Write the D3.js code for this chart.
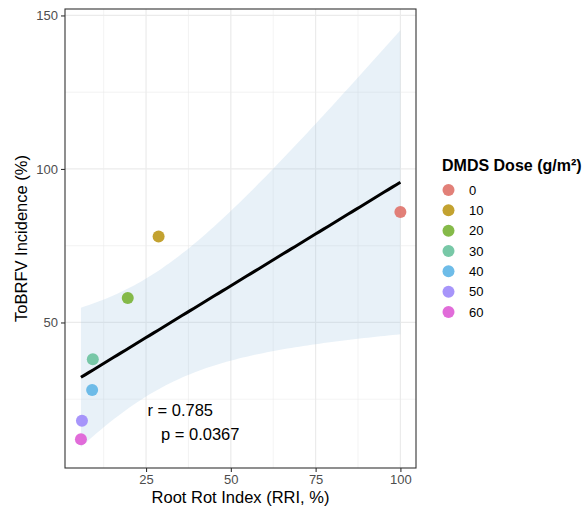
<!DOCTYPE html>
<html>
<head>
<meta charset="utf-8">
<script src="https://cdn.jsdelivr.net/npm/d3@7"></script>
<style>
  body { margin: 0; background: #fff; }
  svg { font-family: "Liberation Sans", Arial, Helvetica, sans-serif; }
</style>
</head>
<body>
<div id="chart"></div>
<script>
// datos
var doses = ["0", "10", "20", "30", "40", "50", "60"];
var rri = [100, 28.7, 19.6, 9.3, 9.1, 6.1, 5.8];
var incidence = [86, 78, 58, 38, 28, 18, 12];
var colores = ["#E0756D", "#BE9A1E", "#7BB43A", "#6CC3A0", "#62B6E6", "#A08CFA", "#DE5FD6"];
var xTicks = [25, 50, 75, 100];
var yTicks = [50, 100, 150];
var xMinor = [12.5, 37.5, 62.5, 87.5];
var yMinor = [25, 75, 125];

var W = 585, H = 509;
var panel = { left: 65, top: 9, right: 416, bottom: 468 };

var svg = d3.select("#chart").append("svg")
    .attr("width", W).attr("height", H);

var x = d3.scaleLinear().domain([1.1, 104.6]).range([panel.left, panel.right]);
var y = d3.scaleLinear().domain([2.6, 152.1]).range([panel.bottom, panel.top]);

// regresion lineal y banda de confianza 95% (como geom_smooth lm)
var n = rri.length;
var mx = d3.mean(rri), my = d3.mean(incidence);
var sxx = d3.sum(rri, function(d) { return (d - mx) * (d - mx); });
var sxy = d3.sum(rri, function(d, i) { return (d - mx) * (incidence[i] - my); });
var b = sxy / sxx, a = my - b * mx;
var sse = d3.sum(rri, function(d, i) { var r = incidence[i] - (a + b * d); return r * r; });
var s = Math.sqrt(sse / (n - 2));
var tq = 2.570582; // t(0.975, df=5)

var xs = d3.range(80).map(function(i) {
    return d3.min(rri) + (d3.max(rri) - d3.min(rri)) * i / 79;
});
var fit = xs.map(function(xv) {
    var yh = a + b * xv;
    var se = s * Math.sqrt(1 / n + (xv - mx) * (xv - mx) / sxx);
    return { x: xv, y: yh, lo: yh - tq * se, hi: yh + tq * se };
});

// grilla
var g = svg.append("g");
g.selectAll(".xminor").data(xMinor).enter().append("line")
    .attr("x1", function(d) { return x(d); }).attr("x2", function(d) { return x(d); })
    .attr("y1", panel.top).attr("y2", panel.bottom)
    .attr("stroke", "#EBEBEB").attr("stroke-width", 0.6);
g.selectAll(".yminor").data(yMinor).enter().append("line")
    .attr("y1", function(d) { return y(d); }).attr("y2", function(d) { return y(d); })
    .attr("x1", panel.left).attr("x2", panel.right)
    .attr("stroke", "#EBEBEB").attr("stroke-width", 0.6);
g.selectAll(".xmajor").data(xTicks).enter().append("line")
    .attr("x1", function(d) { return x(d); }).attr("x2", function(d) { return x(d); })
    .attr("y1", panel.top).attr("y2", panel.bottom)
    .attr("stroke", "#EBEBEB").attr("stroke-width", 1.2);
g.selectAll(".ymajor").data(yTicks).enter().append("line")
    .attr("y1", function(d) { return y(d); }).attr("y2", function(d) { return y(d); })
    .attr("x1", panel.left).attr("x2", panel.right)
    .attr("stroke", "#EBEBEB").attr("stroke-width", 1.2);

// banda
svg.append("path")
    .datum(fit)
    .attr("d", d3.area()
        .x(function(d) { return x(d.x); })
        .y0(function(d) { return y(Math.max(d.lo, y.domain()[0])); })
        .y1(function(d) { return y(Math.min(d.hi, y.domain()[1])); }))
    .attr("fill", "#9DC3E0").attr("fill-opacity", 0.23);

// linea
svg.append("path")
    .datum(fit)
    .attr("d", d3.line().x(function(d) { return x(d.x); }).y(function(d) { return y(d.y); }))
    .attr("fill", "none").attr("stroke", "#000").attr("stroke-width", 3);

// puntos
svg.selectAll("circle.pt")
    .data(rri)
    .enter()
    .append("circle")
    .attr("class", "pt")
    .attr("cx", function(d) { return x(d); })
    .attr("cy", function(d, i) { return y(incidence[i]); })
    .attr("r", 6)
    .attr("fill", function(d, i) { return colores[i]; })
    .attr("fill-opacity", 0.92);

// borde del panel
svg.append("rect")
    .attr("x", panel.left).attr("y", panel.top)
    .attr("width", panel.right - panel.left).attr("height", panel.bottom - panel.top)
    .attr("fill", "none").attr("stroke", "#333333").attr("stroke-width", 1.1);

// ejes
var xAxis = svg.append("g")
    .attr("transform", "translate(0," + panel.bottom + ")")
    .call(d3.axisBottom(x).tickValues(xTicks).tickSize(4).tickPadding(3));
var yAxis = svg.append("g")
    .attr("transform", "translate(" + panel.left + ",0)")
    .call(d3.axisLeft(y).tickValues(yTicks).tickSize(4).tickPadding(3));
[xAxis, yAxis].forEach(function(ax) {
    ax.select(".domain").remove();
    ax.selectAll(".tick line").attr("stroke", "#333333").attr("stroke-width", 1.1);
    ax.selectAll(".tick text").attr("fill", "#4D4D4D")
        .style("font-size", "13px").style("font-family", "Liberation Sans, Arial, sans-serif");
});

// titulos
svg.append("text")
    .attr("x", (panel.left + panel.right) / 2).attr("y", 503)
    .attr("text-anchor", "middle").style("font-size", "16.5px")
    .text("Root Rot Index (RRI, %)");
svg.append("text")
    .attr("transform", "translate(27," + ((panel.top + panel.bottom) / 2) + ") rotate(-90)")
    .attr("text-anchor", "middle").style("font-size", "16.5px")
    .text("ToBRFV Incidence (%)");

// anotacion
svg.append("text")
    .attr("x", x(25.4)).attr("y", y(21.5)).attr("dy", "0.35em")
    .style("font-size", "16.5px").text("r = 0.785");
svg.append("text")
    .attr("x", x(29.4)).attr("y", y(13.6)).attr("dy", "0.35em")
    .style("font-size", "16.5px").text("p = 0.0367");

// leyenda
var leg = svg.append("g");
leg.append("text")
    .attr("x", 442).attr("y", 171)
    .style("font-size", "16px").style("font-weight", "bold")
    .text("DMDS Dose (g/m²)");
var ly = d3.scalePoint().domain(doses).range([190, 312]);
leg.selectAll("circle")
    .data(doses)
    .enter()
    .append("circle")
    .attr("cx", 448.5)
    .attr("cy", function(d) { return ly(d); })
    .attr("r", 6)
    .attr("fill", function(d, i) { return colores[i]; })
    .attr("fill-opacity", 0.92);
leg.selectAll("text.lab")
    .data(doses)
    .enter()
    .append("text")
    .attr("class", "lab")
    .attr("x", 469)
    .attr("y", function(d) { return ly(d); })
    .attr("dy", "0.35em")
    .style("font-size", "13px")
    .text(function(d) { return d; });
</script>
</body>
</html>
